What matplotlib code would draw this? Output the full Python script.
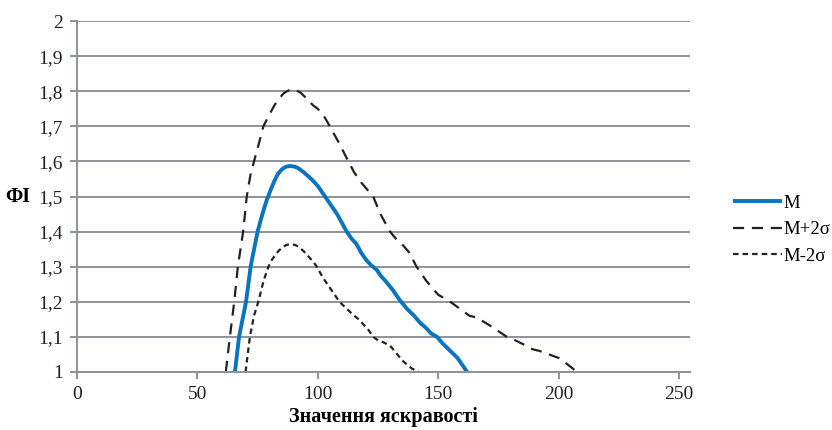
import matplotlib
matplotlib.use("Agg")
import matplotlib.pyplot as plt

plt.rcParams['font.family'] = ['Liberation Serif', 'DejaVu Serif']

# Data
m_x = [65.6, 67.3, 70.2, 72.1, 75, 77, 78.8, 80.5, 82, 83.5, 85, 86.8, 88.5, 90.5, 92, 94,
       96, 98, 100, 103, 106, 108, 110, 112, 114, 116, 118, 120, 122, 124.6, 126, 128,
       131, 134, 137, 140, 142.5, 145, 147, 149.5, 152, 155, 158, 160, 162]
m_y = [1.0, 1.1, 1.2, 1.3, 1.4, 1.45, 1.49, 1.52, 1.545, 1.565, 1.577, 1.585, 1.587, 1.585,
       1.58, 1.57, 1.558, 1.545, 1.53, 1.5, 1.47, 1.45, 1.425, 1.4, 1.38, 1.365, 1.34,
       1.32, 1.305, 1.29, 1.275, 1.26, 1.235, 1.205, 1.18, 1.16, 1.14, 1.125, 1.11, 1.1,
       1.08, 1.06, 1.04, 1.02, 1.0]

mp_x = [61.8, 63.5, 65.3, 66.8, 69, 70.5, 72, 73.5, 75.5, 77.4, 80, 82, 84, 86, 88.5, 91,
        93, 96, 98, 100, 102.5, 105, 109, 112.7, 115, 118, 120.5, 123, 126, 130, 133,
        135.5, 138, 141, 145, 150, 155, 160, 163, 166, 172, 178.5, 182, 185, 189, 192,
        196, 200, 204, 207.6]
mp_y = [1.0, 1.1, 1.2, 1.3, 1.4, 1.5, 1.56, 1.6, 1.65, 1.7, 1.735, 1.76, 1.78, 1.795,
        1.805, 1.803, 1.795, 1.775, 1.76, 1.75, 1.73, 1.7, 1.65, 1.6, 1.57, 1.54, 1.52,
        1.5, 1.45, 1.4, 1.375, 1.36, 1.34, 1.3, 1.26, 1.22, 1.2, 1.175, 1.16, 1.155, 1.13,
        1.1, 1.09, 1.08, 1.065, 1.06, 1.05, 1.04, 1.02, 1.0]

mm_x = [70, 71.8, 73.5, 75.3, 77.5, 79.5, 81, 82.5, 84, 85.5, 87, 88.5, 90.5, 92, 94,
        96, 98, 99.6, 102, 104, 106.5, 109, 112, 114.8, 117, 119, 121, 123, 125, 127,
        130, 133, 135.5, 139, 142]
mm_y = [1.0, 1.1, 1.16, 1.2, 1.26, 1.3, 1.32, 1.335, 1.347, 1.356, 1.362, 1.364, 1.362,
        1.357, 1.345, 1.33, 1.315, 1.3, 1.27, 1.25, 1.225, 1.2, 1.18, 1.162, 1.15, 1.135,
        1.12, 1.1, 1.09, 1.085, 1.075, 1.05, 1.03, 1.01, 1.0]

x_ticks = [0, 50, 100, 150, 200, 250]
y_ticks = [1, 1.1, 1.2, 1.3, 1.4, 1.5, 1.6, 1.7, 1.8, 1.9, 2]
y_labels = ['1', '1,1', '1,2', '1,3', '1,4', '1,5', '1,6', '1,7', '1,8', '1,9', '2']

fig = plt.figure(figsize=(8.32, 4.30), dpi=100)
ax = fig.add_axes([0.0925, 0.135, 0.737, 0.816])

grid_c = '#8c9398'
ax.set_xlim(0, 254.6)
ax.set_ylim(1, 2)
ax.set_yticks(y_ticks)
ax.set_yticklabels(y_labels)
ax.set_xticks(x_ticks)
ax.yaxis.grid(True, color=grid_c, lw=1.4)
ax.set_axisbelow(True)
for s in ['top', 'right']:
    ax.spines[s].set_visible(False)
for s in ['left', 'bottom']:
    ax.spines[s].set_color(grid_c)
    ax.spines[s].set_linewidth(1.4)
ax.tick_params(axis='both', colors=grid_c, length=5, width=1.4, labelsize=14,
               labelcolor='#222222')
ax.tick_params(axis='x', pad=5)
ax.tick_params(axis='y', pad=5)

ax.plot(m_x, m_y, color='#0b74bf', lw=2.8, label='M', solid_capstyle='butt')
ax.plot(mp_x, mp_y, color='#222222', lw=1.6, dashes=(5, 3.5), label='M+2σ')
ax.plot(mm_x, mm_y, color='#222222', lw=1.6, dashes=(2.5, 1.8), label='M-2σ')

ax.set_xlabel('Значення яскравості', fontsize=14.5, fontweight='bold')
ax.xaxis.set_label_coords(0.5, -0.1)
ax.set_ylabel('ФІ', fontsize=14.5, fontweight='bold', rotation=0, va='center', ha='center')
ax.yaxis.set_label_coords(-0.097, 0.5)

leg = ax.legend(loc='upper left', bbox_to_anchor=(0.872, 0.565), bbox_transform=fig.transFigure,
                frameon=False, fontsize=13.5, handlelength=2.6, handletextpad=0.1,
                labelspacing=0.5, borderaxespad=0)

fig.savefig('out.png', dpi=100)
